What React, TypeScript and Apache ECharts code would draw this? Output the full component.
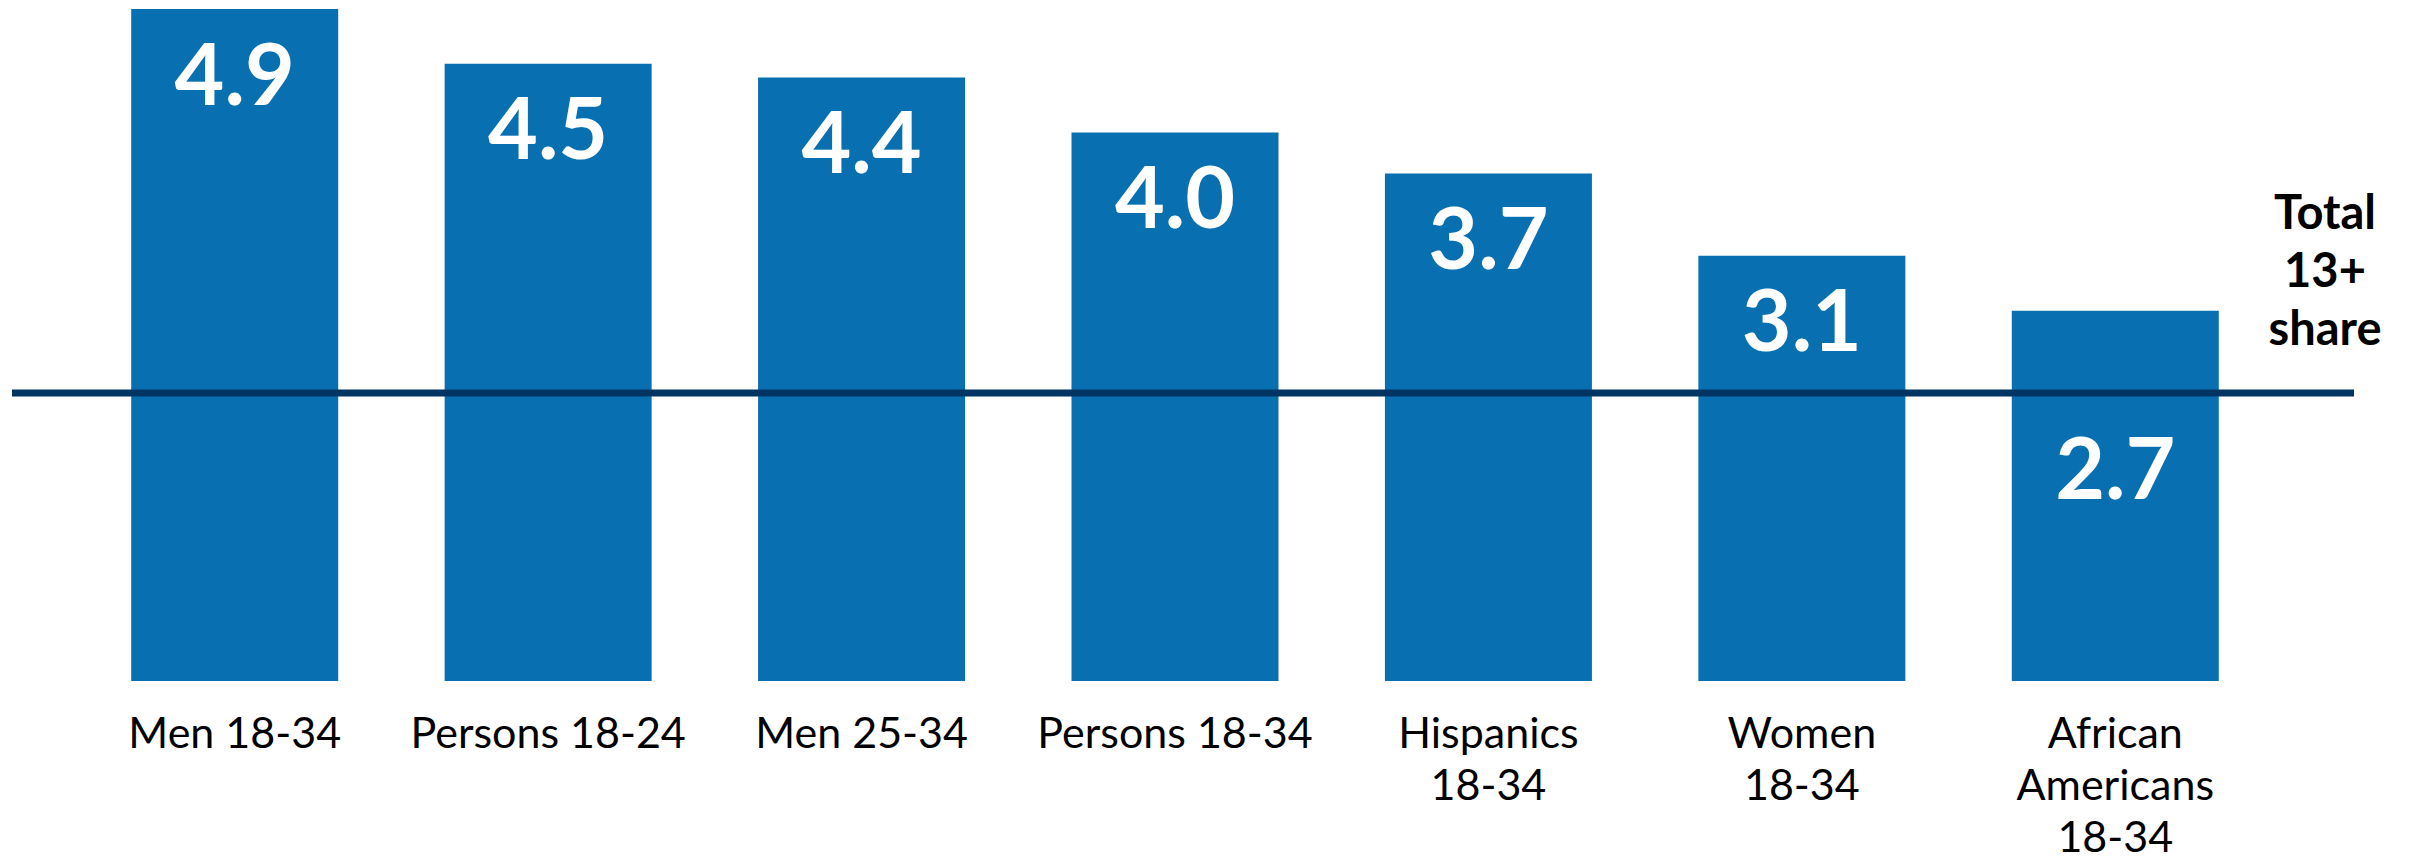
import React, { useEffect, useRef } from "react";
import * as echarts from "echarts";

const categories = [
  "Men 18-34",
  "Persons 18-24",
  "Men 25-34",
  "Persons 18-34",
  "Hispanics\n18-34",
  "Women\n18-34",
  "African\nAmericans\n18-34",
];
const shares = [4.9, 4.5, 4.4, 4.0, 3.7, 3.1, 2.7];
const totalShare = 2.1;
const totalLabel = "Total\n13+\nshare";

const BAR = "#0870B0";
const LINE = "#003462";

export default function App() {
  const ref = useRef<HTMLDivElement>(null);
  useEffect(() => {
    document.body.style.margin = "0";
    if (!ref.current) return;
    const chart = echarts.init(ref.current, undefined, { renderer: "svg" });
    const yMax = 4.9;
    const data = shares.map((v) => {
      const below = v - totalShare < 0.9;
      return {
        value: v,
        label: below ? { distance: 112 } : undefined,
      };
    });
    chart.setOption({
      animation: false,
      backgroundColor: "#ffffff",
      grid: [
        { left: 78, width: 2194, top: 9, height: 672, outerBoundsMode: "none" },
        { left: 12, width: 2342, top: 9, height: 672, outerBoundsMode: "none" },
      ],
      xAxis: [
        {
          type: "category",
          data: categories,
          gridIndex: 0,
          axisLine: { show: false },
          axisTick: { show: false },
          axisLabel: {
            interval: 0,
            fontFamily: "Lato",
            fontSize: 43,
            color: "#000000",
            lineHeight: 52,
            margin: 24,
          },
        },
        { type: "value", gridIndex: 1, min: 0, max: 1, show: false },
      ],
      yAxis: [
        { type: "value", gridIndex: 0, min: 0, max: yMax, show: false },
        { type: "value", gridIndex: 1, min: 0, max: yMax, show: false },
      ],
      series: [
        {
          type: "bar",
          xAxisIndex: 0,
          yAxisIndex: 0,
          data,
          barWidth: 207,
          itemStyle: { color: BAR },
          label: {
            show: true,
            position: "insideTop",
            distance: 19,
            color: "#ffffff",
            fontFamily: "Lato",
            fontWeight: "bold",
            fontSize: 86,
            formatter: (p: any) => Number(p.value).toFixed(1),
          },
          z: 2,
        },
        {
          type: "line",
          xAxisIndex: 1,
          yAxisIndex: 1,
          data: [
            [0, totalShare],
            [1, totalShare],
          ],
          symbol: "none",
          lineStyle: { color: LINE, width: 7 },
          z: 5,
        },
      ],
      graphic: [
        {
          type: "text",
          x: 2325,
          y: 182,
          z: 10,
          style: {
            text: totalLabel,
            fontFamily: "Lato",
            fontWeight: "bold",
            fontSize: 47,
            lineHeight: 58,
            fill: "#000000",
            align: "center",
          },
        },
      ],
    });
    return () => chart.dispose();
  }, []);
  return <div ref={ref} style={{ width: 2409, height: 861 }} />;
}
